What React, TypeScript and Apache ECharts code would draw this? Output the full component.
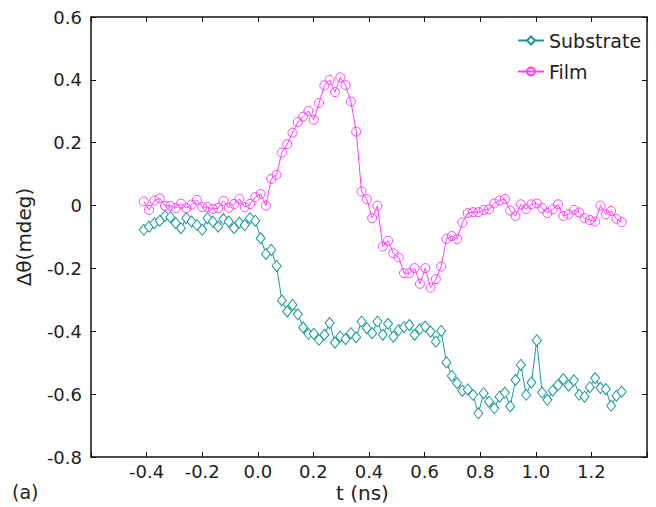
import React, { useEffect, useRef } from "react";
import * as echarts from "echarts";

// sampling grid (ns): first sample and spacing
const T_START = -0.41;
const T_STEP = 0.0191;

const substrate = [
  -0.077, -0.067, -0.056, -0.048, -0.033, -0.037, -0.056, -0.072, -0.040, -0.051,
  -0.062, -0.077, -0.040, -0.051, -0.067, -0.043, -0.051, -0.072, -0.054, -0.062,
  -0.040, -0.048, -0.104, -0.154, -0.141, -0.192, -0.302, -0.337, -0.316, -0.346,
  -0.388, -0.408, -0.408, -0.427, -0.411, -0.374, -0.436, -0.417, -0.425, -0.406,
  -0.419, -0.369, -0.390, -0.406, -0.369, -0.411, -0.376, -0.417, -0.396, -0.387,
  -0.380, -0.411, -0.393, -0.385, -0.401, -0.433, -0.399, -0.499, -0.542, -0.565,
  -0.589, -0.585, -0.602, -0.661, -0.597, -0.624, -0.645, -0.608, -0.595, -0.639,
  -0.555, -0.507, -0.602, -0.563, -0.429, -0.595, -0.618, -0.589, -0.571, -0.552,
  -0.573, -0.556, -0.602, -0.608, -0.578, -0.549, -0.580, -0.584, -0.637, -0.605,
  -0.592,
];

const film = [
  0.013, -0.014, 0.016, 0.023, -0.001, -0.001, -0.008, 0.006, -0.008, 0.003,
  0.018, -0.005, -0.005, -0.011, -0.008, 0.015, -0.007, 0.005, 0.021, -0.005,
  0.005, 0.027, 0.037, 0.0, 0.085, 0.098, 0.169, 0.195, 0.232, 0.266,
  0.283, 0.301, 0.273, 0.326, 0.382, 0.4, 0.361, 0.408, 0.383, 0.331,
  0.235, 0.045, 0.020, -0.040, -0.001, -0.130, -0.112, -0.152, -0.165, -0.215,
  -0.215, -0.199, -0.249, -0.199, -0.261, -0.234, -0.194, -0.106, -0.097, -0.107,
  -0.054, -0.024, -0.021, -0.021, -0.014, -0.012, 0.007, 0.016, 0.021, -0.016,
  -0.033, 0.004, -0.011, 0.004, 0.007, -0.008, -0.024, -0.012, 0.004, -0.033,
  -0.028, -0.014, -0.022, -0.040, -0.046, -0.051, 0.0, -0.028, -0.017, -0.042,
  -0.053,
];

const times = substrate.map((_, i) => T_START + i * T_STEP);

const SUB_COLOR = "#17999a";
const FILM_COLOR = "#ff3cff";
const FONT = "DejaVu Sans, Liberation Sans, Arial, sans-serif";
const TEXT = "#222222";

export default function App() {
  const ref = useRef<HTMLDivElement>(null);
  useEffect(() => {
    if (!ref.current) return;
    const chart = echarts.init(ref.current, undefined, { renderer: "svg" });
    const axisLine = { show: true, onZero: false, lineStyle: { color: "#111", width: 1.5 } };
    const tick = { show: true, inside: true, length: 5, lineStyle: { color: "#111", width: 1 } };
    chart.setOption({
      animation: false,
      backgroundColor: "#ffffff",
      textStyle: { fontFamily: FONT },
      grid: { left: 91, right: 9, top: 17, bottom: 50, containLabel: false },
      legend: {
        orient: "vertical",
        left: 512,
        top: 26,
        itemWidth: 26,
        itemHeight: 10,
        itemGap: 12,
        textStyle: { fontSize: 19, color: TEXT, fontFamily: FONT },
        data: ["Substrate", "Film"],
      },
      xAxis: [
        {
          type: "value",
          min: -0.6,
          max: 1.4,
          interval: 0.2,
          axisLine,
          axisTick: tick,
          splitLine: { show: false },
          axisLabel: {
            fontSize: 18,
            color: TEXT,
            fontFamily: FONT,
            margin: 5,
            formatter: (v: number) =>
              Math.abs(v + 0.6) < 1e-6 || Math.abs(v - 1.4) < 1e-6 ? "" : v.toFixed(1),
          },
        },
        {
          type: "value",
          position: "top",
          min: -0.6,
          max: 1.4,
          interval: 0.2,
          axisLine,
          axisTick: tick,
          axisLabel: { show: false },
          splitLine: { show: false },
        },
      ],
      yAxis: [
        {
          type: "value",
          min: -0.8,
          max: 0.6,
          interval: 0.2,
          axisLine,
          axisTick: tick,
          splitLine: { show: false },
          name: "Δθ(mdeg)",
          nameLocation: "middle",
          nameGap: 57,
          nameTextStyle: { fontSize: 20, color: TEXT, fontFamily: FONT },
          axisLabel: {
            fontSize: 18,
            color: TEXT,
            fontFamily: FONT,
            margin: 9,
            formatter: (v: number) => (Math.abs(v) < 1e-6 ? "0" : v.toFixed(1)),
          },
        },
        {
          type: "value",
          position: "right",
          min: -0.8,
          max: 0.6,
          interval: 0.2,
          axisLine,
          axisTick: tick,
          axisLabel: { show: false },
          splitLine: { show: false },
        },
      ],
      graphic: [
        {
          type: "text",
          left: 336,
          top: 483,
          style: { text: "t (ns)", fontSize: 20, fill: TEXT, fontFamily: FONT },
        },
        {
          type: "text",
          left: 12,
          top: 482,
          style: { text: "(a)", fontSize: 19, fill: TEXT, fontFamily: FONT },
        },
      ],
      series: [
        {
          name: "Substrate",
          type: "line",
          data: times.map((t, i) => [t, substrate[i]]),
          symbol: "diamond",
          symbolSize: [9, 11],
          showAllSymbol: true,
          itemStyle: { color: "#ffffff", borderColor: SUB_COLOR, borderWidth: 1 },
          lineStyle: { color: SUB_COLOR, width: 1 },
          color: SUB_COLOR,
        },
        {
          name: "Film",
          type: "line",
          data: times.map((t, i) => [t, film[i]]),
          symbol: "circle",
          symbolSize: 9,
          showAllSymbol: true,
          itemStyle: { color: "rgba(255,255,255,0)", borderColor: FILM_COLOR, borderWidth: 1 },
          lineStyle: { color: FILM_COLOR, width: 1 },
          color: FILM_COLOR,
        },
      ],
    });
    return () => chart.dispose();
  }, []);
  return (
    <div
      ref={ref}
      style={{ position: "absolute", left: 0, top: 0, width: 656, height: 507 }}
    />
  );
}
